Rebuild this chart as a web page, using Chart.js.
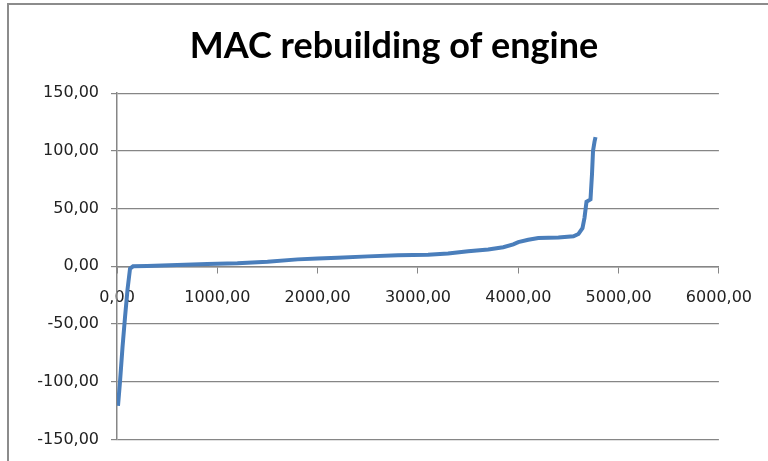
<!DOCTYPE html>
<html>
<head>
<meta charset="utf-8">
<script src="https://cdn.jsdelivr.net/npm/chart.js@4"></script>
<style>
  html, body { margin: 0; padding: 0; background: #fff; }
  #wrap { position: relative; width: 768px; height: 461px; }
  #frame { position: absolute; left: 7px; top: 3px; width: 770px; height: 470px;
           border-left: 2px solid #8c8c8c; border-top: 2px solid #8c8c8c; }
  canvas { position: absolute; left: 0; top: 0; }
</style>
</head>
<body>
<div id="wrap">
  <div id="frame"></div>
  <canvas id="grafico" width="768" height="461"></canvas>
</div>
<script>
var titulo = "MAC rebuilding of engine";

// abatement amount (x) and marginal cost (y)
var xs = [10, 30, 55, 80, 105, 130, 160, 300, 600, 900, 1200, 1500, 1800, 2000, 2200, 2500, 2800, 3100,
          3300, 3500, 3700, 3850, 3950, 4000, 4100, 4200, 4400, 4550, 4600, 4640, 4660, 4680, 4720, 4735,
          4745, 4760, 4770];
var ys = [-121, -100, -70, -44, -20, -2, 0, 0.3, 1.2, 2, 2.7, 4, 6, 6.8, 7.5, 8.6, 9.5, 10,
          11, 13, 14.5, 16.5, 19, 21, 23, 24.5, 25, 26, 28, 33, 42, 56, 58, 80,
          100, 108, 112];

var xMin = 0, xMax = 6000, xStep = 1000;
var yMin = -150, yMax = 150, yStep = 50;

function fmt(v) { return v.toFixed(2).replace(".", ","); }

var pontos = xs.map(function (x, i) { return { x: x, y: ys[i] }; });

var canvasElement = document.getElementById("grafico");
var corEixo = "#868686";

// title is centred a bit right of the canvas middle in the original
var moveTitulo = {
    id: "moveTitulo",
    afterLayout: function (chart) {
        if (chart.titleBlock) { chart.titleBlock.left = 68; }
    }
};

var config = {
    type: "line",
    data: {
        datasets: [{
            data: pontos,
            borderColor: "#4a7ebb",
            borderWidth: 4,
            pointRadius: 0,
            tension: 0,
            fill: false
        }]
    },
    options: {
        responsive: false,
        animation: false,
        layout: { padding: { left: 0, right: 48, top: 0, bottom: 18 } },
        plugins: {
            legend: { display: false },
            tooltip: { enabled: false },
            title: {
                display: true,
                text: titulo,
                color: "#000",
                font: { family: "Lato", weight: "bold", size: 36 },
                padding: { top: 25, bottom: 25 }
            }
        },
        scales: {
            x: {
                type: "linear",
                position: { y: 0 },
                min: xMin, max: xMax,
                ticks: {
                    stepSize: xStep,
                    callback: function (v) { return fmt(v); },
                    color: "#222",
                    font: { family: "DejaVu Sans", size: 16 },
                    padding: 16,
                    maxRotation: 0
                },
                grid: { drawOnChartArea: false, color: corEixo, tickLength: 6 },
                border: { color: corEixo, width: 1.5 }
            },
            y: {
                min: yMin, max: yMax,
                ticks: {
                    stepSize: yStep,
                    callback: function (v) { return fmt(v); },
                    color: "#222",
                    font: { family: "DejaVu Sans", size: 16 },
                    padding: 12
                },
                grid: { color: corEixo, tickLength: 6, lineWidth: 1.2 },
                border: { color: corEixo, width: 1.5 },
                afterFit: function (scale) { scale.width = 117; }
            }
        }
    },
    plugins: [moveTitulo]
};

var graficoMAC = new Chart(canvasElement, config);
</script>
</body>
</html>
